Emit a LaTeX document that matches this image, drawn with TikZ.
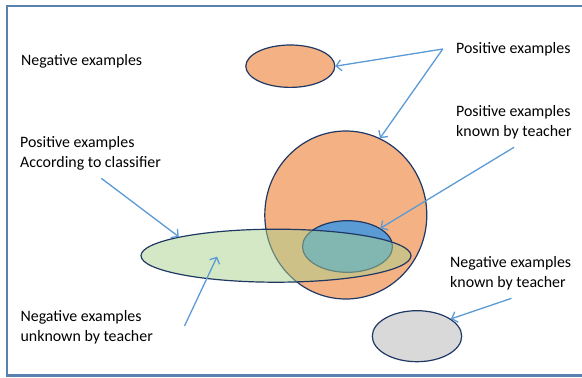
\documentclass[tikz,border=0pt]{standalone}
\usepackage{fontspec}
\setmainfont{Carlito}
\usetikzlibrary{shapes.geometric,arrows.meta}

\definecolor{rimblue}{HTML}{1F3864}
\definecolor{arrowblue}{HTML}{5B9BD5}
\definecolor{framecol}{HTML}{5A82B0}
\definecolor{orangefill}{HTML}{F4B183}
\definecolor{greenfill}{HTML}{A9D18E}
\definecolor{bluefill}{HTML}{5B9BD5}
\definecolor{grayfill}{HTML}{D9D9D9}

\tikzset{
  blob/.style={ellipse,draw=rimblue,line width=1.2pt,inner sep=0pt},
  lbl/.style={anchor=west,inner sep=0pt,align=left,font=\fontsize{15.9}{20}\selectfont},
  pointer/.style={draw=arrowblue,line width=1.3pt,-{Straight Barb[length=5pt,width=11pt]}},
}

\begin{document}
\begin{tikzpicture}[x=1pt,y=-1pt]
  \useasboundingbox (0,0) rectangle (582,378);
  \draw[framecol,line width=2.2pt] (600,5.8) -- (6.8,5.8) -- (6.8,375.5) -- (600,375.5);

  % sets
  \node[blob,fill=orangefill,minimum width=162pt,minimum height=168pt] (big) at (345.8,215) {};
  \node[blob,fill=orangefill,minimum width=89pt,minimum height=42.4pt] (pos) at (290.3,66.2) {};
  \node[blob,fill=grayfill,minimum width=89.4pt,minimum height=51pt] (neg) at (417,336.2) {};
  \node[blob,fill=bluefill,minimum width=90pt,minimum height=51.6pt] (known) at (347.5,246.5) {};
  \node[blob,fill=greenfill,fill opacity=.5,minimum width=270pt,minimum height=53pt] (clf) at (276,255.7) {};

  % labels
  \node[lbl] (tNeg) at (21,61) {Negative examples};
  \node[lbl] (tPos) at (456,49) {Positive examples};
  \node[lbl] (tPosKnown) at (456,122.3) {Positive examples\\known by teacher};
  \node[lbl] (tClf) at (20,153.7) {Positive examples\\According to classifier};
  \node[lbl] (tNegKnown) at (450,273.3) {Negative examples\\known by teacher};
  \node[lbl] (tNegUnknown) at (20.4,327.3) {Negative examples\\unknown by teacher};

  % arrows
  \coordinate (pTail) at (442.8,49);
  \coordinate (kTail) at (514,147.3);
  \coordinate (cTail) at (101.3,178.3);
  \coordinate (uTail) at (184.5,326);
  \coordinate (uHead) at (217.1,256.7);
  \coordinate (nTail) at (511.5,298.3);
  \draw[pointer] (pTail) -- (pos.east);
  \draw[pointer] (pTail) -- (big.66);
  \draw[pointer] (kTail) -- (known.29);
  \draw[pointer] (cTail) -- (clf.169);
  \draw[pointer] (uTail) -- (uHead);
  \draw[pointer] (nTail) -- (neg.27);
\end{tikzpicture}
\end{document}
